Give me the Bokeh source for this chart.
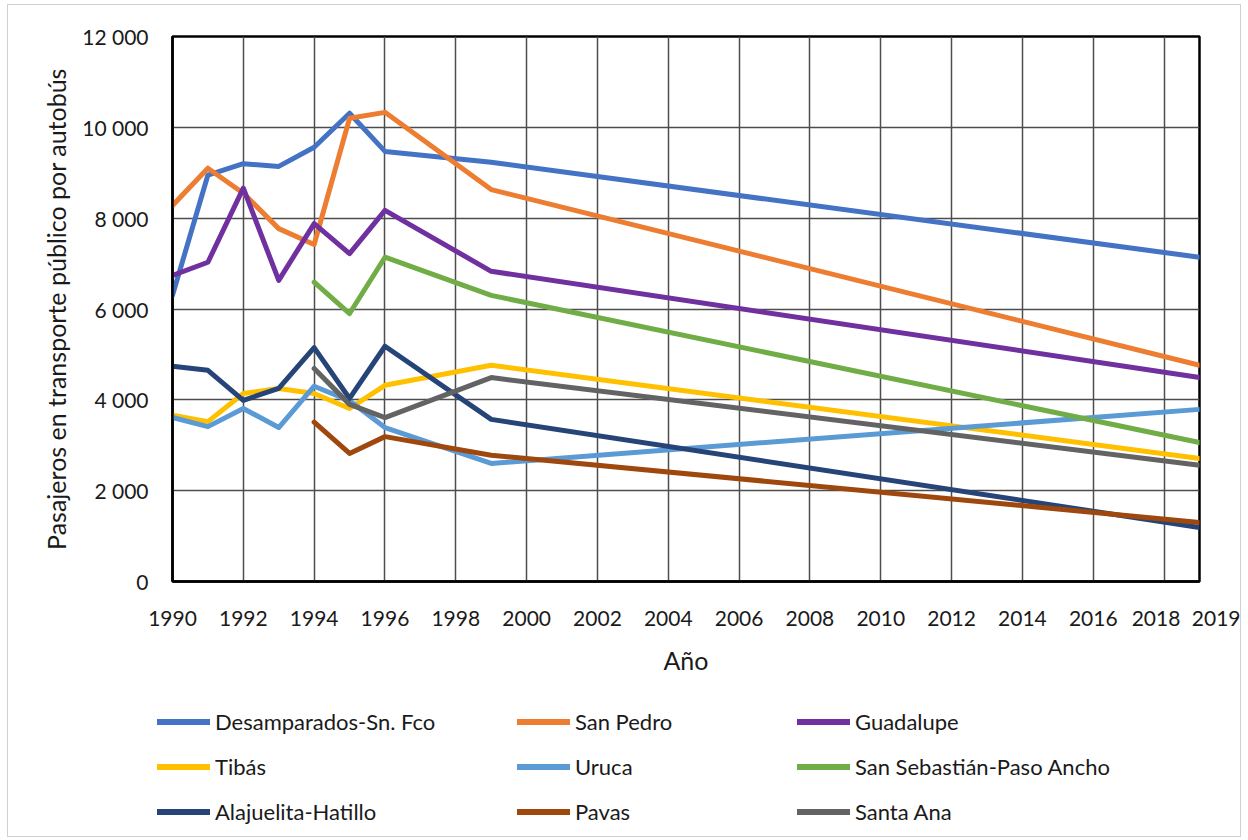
from bokeh.plotting import figure
from bokeh.layouts import column
from bokeh.models import Range1d, FixedTicker, Legend, LegendItem
from bokeh.embed import file_html
from bokeh.resources import INLINE

# ---- data ----
years_a = [1990, 1991, 1992, 1993, 1994, 1995, 1996, 1999, 2019]
years_b = [1994, 1995, 1996, 1999, 2019]

desamparados = [6300, 8950, 9200, 9140, 9560, 10310, 9470, 9230, 7140]
san_pedro = [8280, 9100, 8550, 7770, 7420, 10200, 10330, 8630, 4760]
guadalupe = [6740, 7030, 8660, 6630, 7880, 7220, 8170, 6830, 4490]
tibas = [3660, 3520, 4140, 4250, 4140, 3810, 4320, 4760, 2710]
uruca = [3610, 3410, 3810, 3390, 4300, 3980, 3390, 2600, 3790]
san_sebastian = [6590, 5900, 7140, 6300, 3060]
alajuelita = [4740, 4650, 3990, 4250, 5150, 4030, 5180, 3570, 1190]
pavas = [3510, 2820, 3190, 2780, 1300]
santa_ana = [4690, 3900, 3610, 4490, 2560]

series_names = ["Desamparados-Sn. Fco", "San Pedro", "Guadalupe", "Tibás", "Uruca",
                "San Sebastián-Paso Ancho", "Alajuelita-Hatillo", "Pavas", "Santa Ana"]
series_x = [years_a, years_a, years_a, years_a, years_a, years_b, years_a, years_b, years_b]
series_y = [desamparados, san_pedro, guadalupe, tibas, uruca, san_sebastian, alajuelita, pavas, santa_ana]
colors = ["#4472C4", "#ED7D31", "#7030A0", "#FFC000", "#5B9BD5",
          "#70AD47", "#264478", "#9E480E", "#636363"]

y_ticks = [0, 2000, 4000, 6000, 8000, 10000, 12000]
y_tick_labels = ["0", "2 000", "4 000", "6 000", "8 000", "10 000", "12 000"]
x_ticks = list(range(1990, 2019, 2)) + [2019]
x_tick_labels = [str(t) for t in x_ticks]

FONT = "Lato"
TXT = "#1a1a1a"
NB = "\u00a0"

W = 1232
H1 = 685
H2 = 146

p = figure(width=W, height=H1, output_backend="svg", toolbar_location=None,
           x_range=Range1d(1990, 2019), y_range=Range1d(0, 12000),
           min_border_left=164, min_border_right=41, min_border_top=31, min_border_bottom=109)

p.outline_line_color = "black"
p.outline_line_width = 2.5

xlab = dict(zip(x_ticks, x_tick_labels))
xlab[2018] = xlab[2018] + NB * 3
xlab[2019] = NB * 9 + xlab[2019]
p.xaxis.ticker = FixedTicker(ticks=x_ticks)
p.xaxis.major_label_overrides = xlab
p.yaxis.ticker = FixedTicker(ticks=y_ticks)
p.yaxis.major_label_overrides = dict(zip(y_ticks, y_tick_labels))
p.xgrid.ticker = FixedTicker(ticks=x_ticks)
p.ygrid.ticker = FixedTicker(ticks=y_ticks)
for g in (p.xgrid, p.ygrid):
    g.grid_line_color = "#4d4d4d"
    g.grid_line_width = 1.5

for ax in (p.xaxis, p.yaxis):
    ax.axis_line_color = "black"
    ax.axis_line_width = 2.5
    ax.major_tick_out = 0
    ax.major_tick_in = 0
    ax.minor_tick_out = 0
    ax.minor_tick_in = 0
    ax.major_label_text_font = FONT
    ax.major_label_text_font_size = "21px"
    ax.major_label_text_color = TXT
    ax.axis_label_text_font = FONT
    ax.axis_label_text_font_size = "25px"
    ax.axis_label_text_font_style = "normal"
    ax.axis_label_text_color = TXT

p.xaxis.axis_label = "Año"
p.yaxis.axis_label = "Pasajeros en transporte público por autobús"
p.xaxis.major_label_standoff = 23
p.xaxis.axis_label_standoff = 12
p.yaxis.major_label_standoff = 24
p.yaxis.axis_label_standoff = 8

for xs, ys, c in zip(series_x, series_y, colors):
    p.line(xs, ys, line_color=c, line_width=5, line_join="round", line_cap="round")

# legend panel below the chart (its own canvas; the series lie outside its ranges)
lg = figure(width=W, height=H2, output_backend="svg", toolbar_location=None,
            x_range=Range1d(0, 1), y_range=Range1d(0, 1),
            min_border_left=0, min_border_right=0, min_border_top=0, min_border_bottom=0)
lg.axis.visible = False
lg.grid.visible = False
lg.outline_line_color = None
for fig in (p, lg):
    if "frame_align" in fig.properties():
        fig.frame_align = False

keys = [lg.line(xs, ys, line_color=c, line_width=6, line_cap="round")
        for xs, ys, c in zip(series_x, series_y, colors)]

col_x = [149, 509, 789]
for ci in range(3):
    items = [LegendItem(label=series_names[ci + 3 * ri], renderers=[keys[ci + 3 * ri]])
             for ri in range(3)]
    leg = Legend(items=items, location=(col_x[ci], 11), orientation="vertical",
                 padding=0, margin=0, spacing=18, glyph_width=53, glyph_height=25,
                 label_height=25, label_standoff=5,
                 label_text_font=FONT, label_text_font_size="22px", label_text_color=TXT,
                 border_line_alpha=0, background_fill_alpha=0)
    lg.add_layout(leg, "center")

layout = column(p, lg, spacing=0)
layout.styles = {"margin-left": "8px", "margin-top": "5px", "outline": "1px solid #d0d0d0"}

open("out.html", "w").write(file_html(layout, INLINE))
